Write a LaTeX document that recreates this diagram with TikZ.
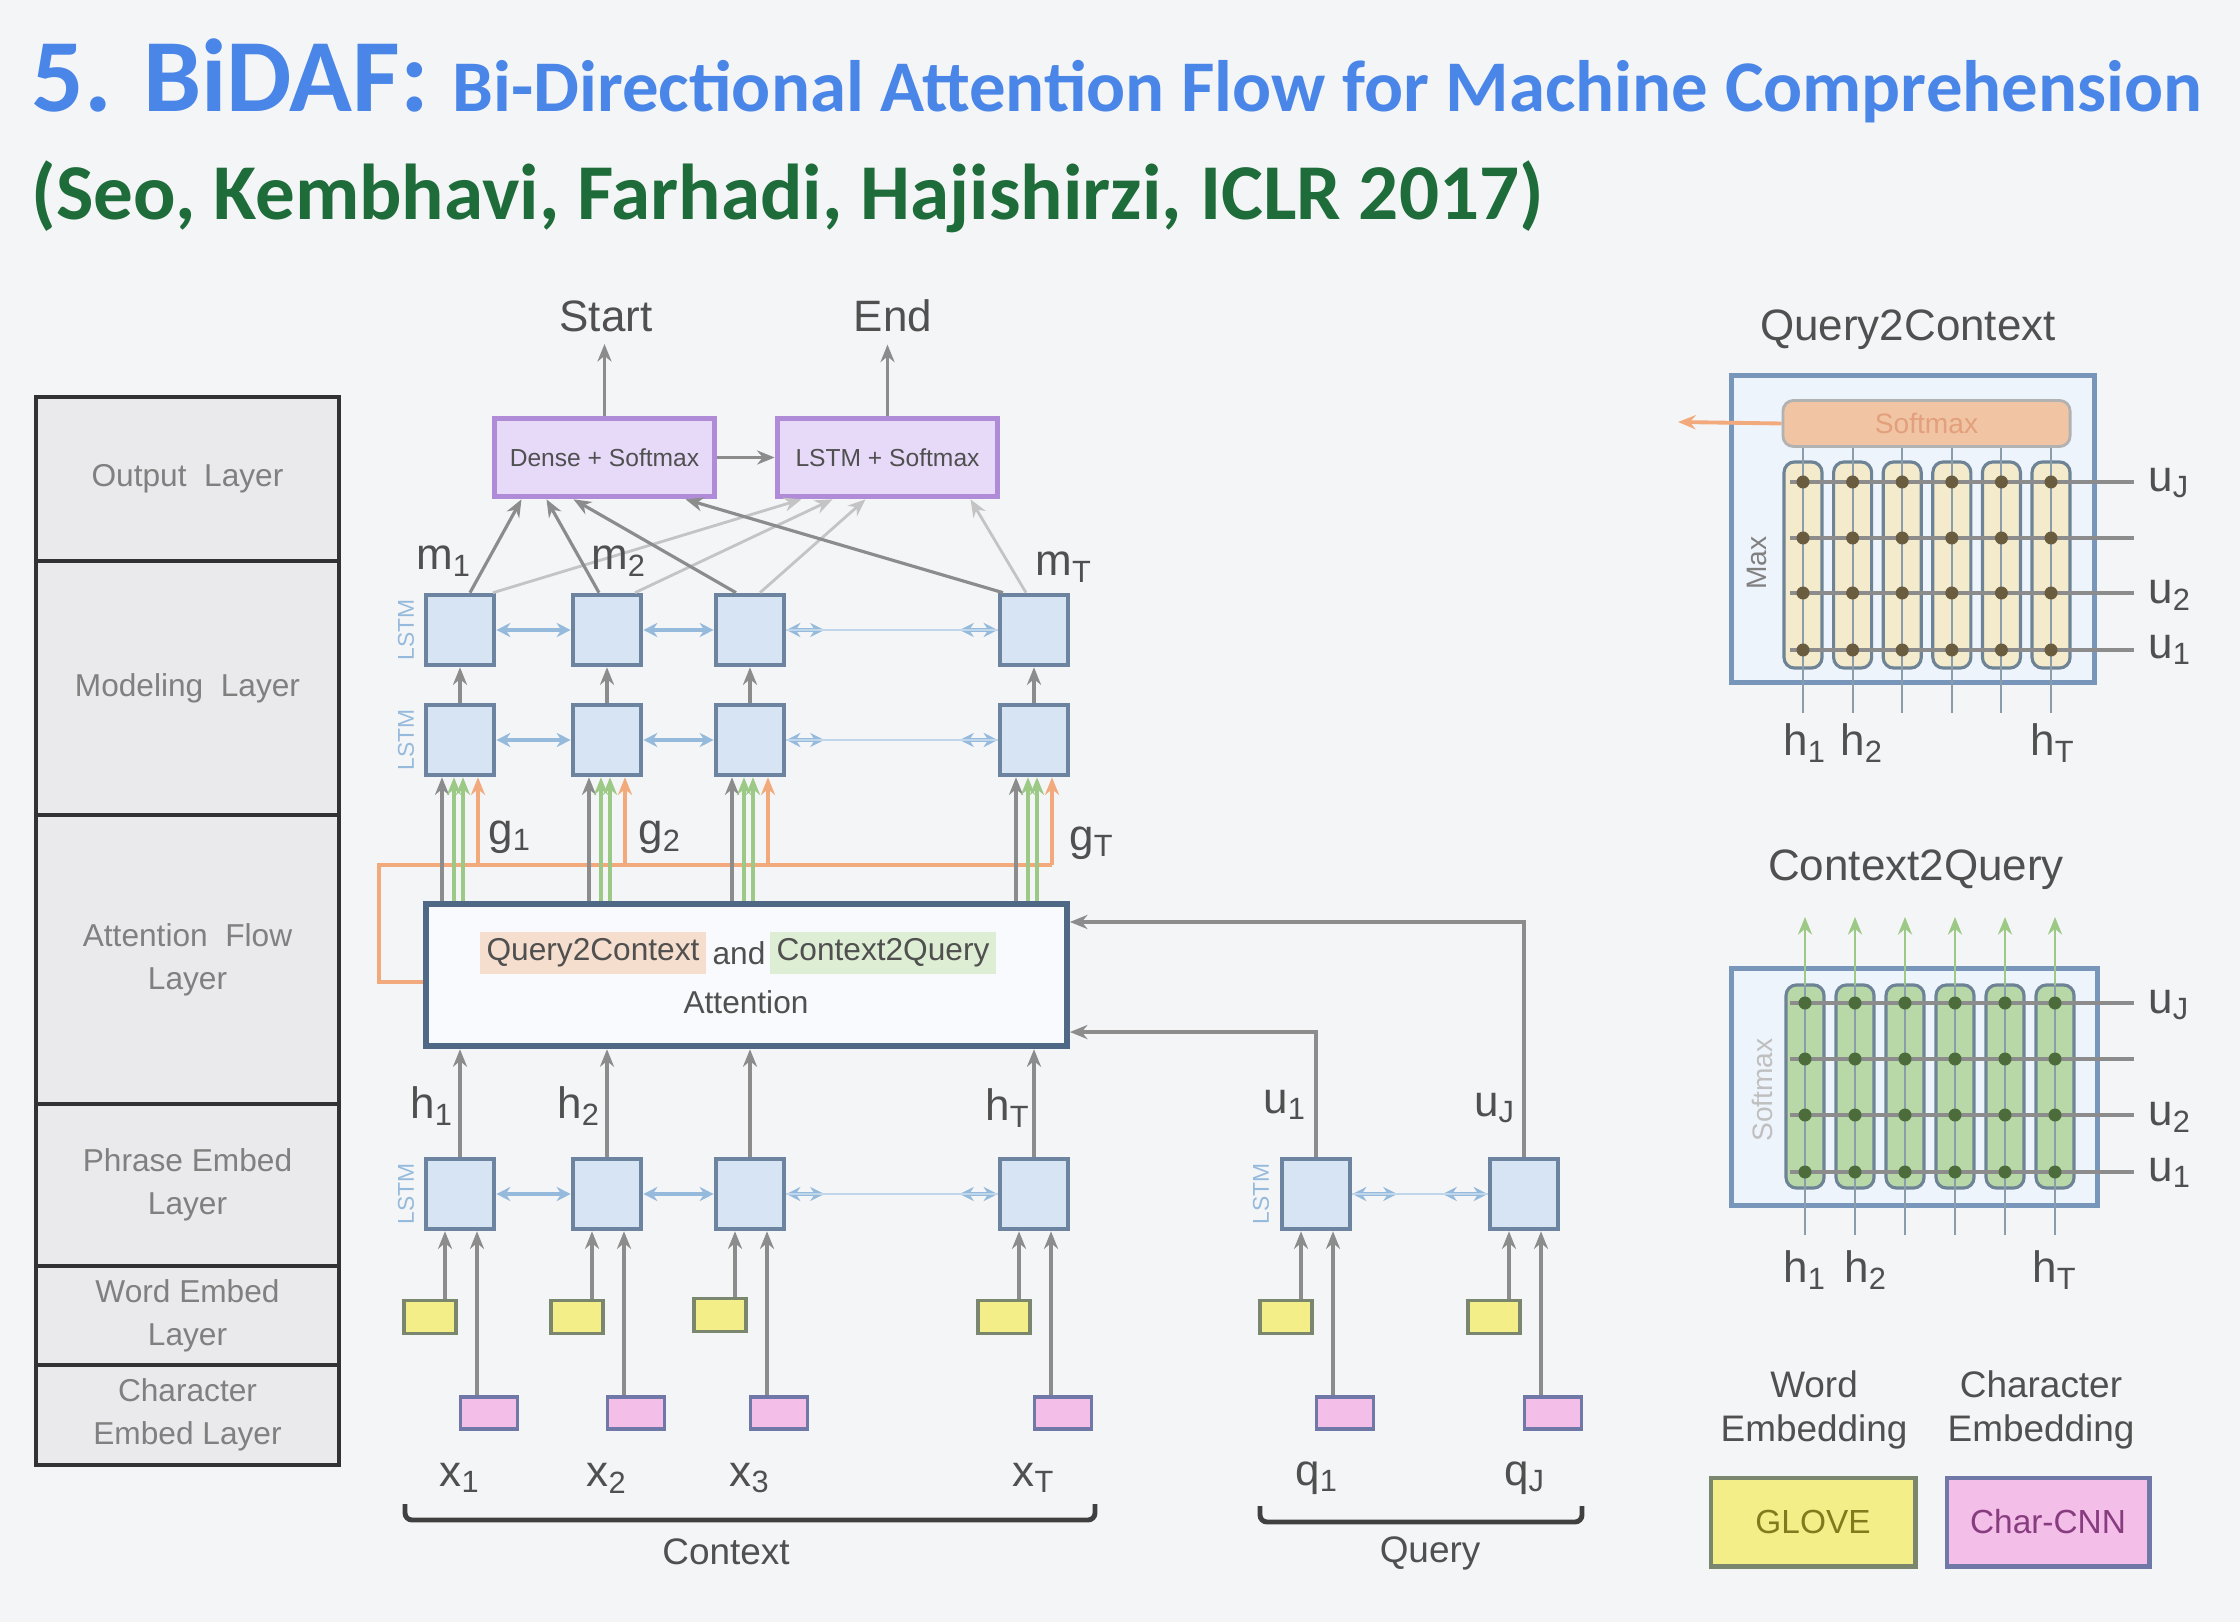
\documentclass[tikz,border=0pt]{standalone}
\usepackage{fontspec}
\setmainfont{Liberation Sans}
\newfontfamily\titlefont{Carlito}
\usepackage{tikz}
\usetikzlibrary{calc, positioning, arrows.meta}
\definecolor{slideBg}{RGB}{244,245,247}
\definecolor{titleBlue}{RGB}{74,134,232}
\definecolor{titleGreen}{RGB}{30,108,58}
\definecolor{txtGray}{RGB}{80,80,80}
\definecolor{layerFill}{RGB}{234,234,236}
\definecolor{layerEdge}{RGB}{50,50,52}
\definecolor{lstmFill}{RGB}{214,228,243}
\definecolor{lstmEdge}{RGB}{108,132,160}
\definecolor{linkBlue}{RGB}{150,186,220}
\definecolor{feedGray}{RGB}{140,140,140}
\definecolor{lightGray}{RGB}{196,196,196}
\definecolor{attEdge}{RGB}{78,104,134}
\definecolor{attFill}{RGB}{248,250,253}
\definecolor{outFill}{RGB}{230,218,248}
\definecolor{outEdge}{RGB}{176,140,216}
\definecolor{gloveFill}{RGB}{244,238,136}
\definecolor{gloveEdge}{RGB}{122,134,110}
\definecolor{gloveText}{RGB}{128,124,30}
\definecolor{charFill}{RGB}{243,190,232}
\definecolor{charEdge}{RGB}{112,120,168}
\definecolor{charText}{RGB}{136,60,128}
\definecolor{qcOrange}{RGB}{242,170,124}
\definecolor{qcFill}{RGB}{241,196,164}
\definecolor{qcText}{RGB}{226,160,124}
\definecolor{qcLight}{RGB}{245,222,205}
\definecolor{cqGreen}{RGB}{156,202,134}
\definecolor{cqLight}{RGB}{222,238,212}
\definecolor{panelFill}{RGB}{238,244,251}
\definecolor{panelEdge}{RGB}{120,150,186}
\definecolor{creamFill}{RGB}{243,235,204}
\definecolor{greenFill}{RGB}{184,216,168}
\definecolor{colEdge}{RGB}{110,132,150}
\definecolor{dotBrown}{RGB}{106,92,62}
\definecolor{dotGreen}{RGB}{76,108,60}

\begin{document}
\begin{tikzpicture}[x=0.01cm, y=-0.01cm, >={Stealth[length=5pt,width=4pt]},
  font=\fontsize{12.5}{14}\selectfont, text=txtGray,
  layer/.style={draw=layerEdge, fill=layerFill, line width=1.3pt, minimum width=3.03cm,
    align=center, text=black!50, font=\fontsize{9}{12.2}\selectfont},
  lstm/.style={draw=lstmEdge, fill=lstmFill, line width=1.3pt, minimum width=0.68cm,
    minimum height=0.70cm, inner sep=0pt},
  glove/.style={draw=gloveEdge, fill=gloveFill, line width=1.1pt, minimum width=0.52cm,
    minimum height=0.33cm, inner sep=0pt},
  charcnn/.style={draw=charEdge, fill=charFill, line width=1.1pt, minimum width=0.57cm,
    minimum height=0.32cm, inner sep=0pt},
  outbox/.style={draw=outEdge, fill=outFill, line width=1.6pt, minimum width=2.2cm,
    minimum height=0.78cm, font=\fontsize{7}{8}\selectfont},
  feed/.style={->, draw=feedGray, line width=0.9pt},
  faint/.style={->, draw=lightGray, line width=0.8pt},
  link/.style={{Stealth[length=4pt,width=4pt]}-{Stealth[length=4pt,width=4pt]},
    draw=linkBlue, line width=0.9pt},
  tag/.style={rotate=90, text=linkBlue, font=\fontsize{6.5}{7}\selectfont, inner sep=0pt},
  brace/.style={draw=black!75, line width=1.4pt, rounded corners=2pt},
  panel/.style={draw=panelEdge, fill=panelFill, line width=1.4pt},
  column/.style={draw=colEdge, rounded corners=3pt, line width=0.9pt, minimum width=0.38cm},
  small/.style={font=\fontsize{10.5}{12.5}\selectfont, align=center}]

  \fill[slideBg] (0,0) rectangle (2240,1622);
  \useasboundingbox (0,0) rectangle (2240,1622);

  % Title
  \node[anchor=base west, inner sep=0pt, text=titleBlue] (title) at (31,112)
    {\titlefont\bfseries\fontsize{29.5}{36}\selectfont 5. BiDAF:
     {\fontsize{20.7}{24}\selectfont Bi-Directional Attention Flow for Machine Comprehension}};
  \node[anchor=base west, inner sep=0pt, text=titleGreen] (cite) at (31,220)
    {\titlefont\bfseries\fontsize{22.5}{26}\selectfont (Seo, Kembhavi, Farhadi, Hajishirzi, ICLR 2017)};

  % Layer stack
  \node[layer, minimum height=1.64cm] (lyOut) at (187.5,479) {Output\ \ Layer};
  \node[layer, minimum height=2.54cm] (lyMod) at (187.5,688) {Modeling\ \ Layer};
  \node[layer, minimum height=2.89cm] (lyAtt) at (187.5,959.5) {Attention\ \ Flow\\Layer};
  \node[layer, minimum height=1.62cm] (lyPhr) at (187.5,1185) {Phrase Embed\\Layer};
  \node[layer, minimum height=0.99cm] (lyWrd) at (187.5,1315.5) {Word Embed\\Layer};
  \node[layer, minimum height=1.00cm] (lyChr) at (187.5,1415) {Character\\Embed Layer};

  % Context embeddings
  \node[lstm] (c1) at (460,1194) {};
  \node[lstm] (c2) at (607,1194) {};
  \node[lstm] (c3) at (750,1194) {};
  \node[lstm] (c4) at (1034,1194) {};
  \node[glove] (wx1) at (430,1317) {};
  \node[glove] (wx2) at (577,1317) {};
  \node[glove] (wx3) at (720,1315) {};
  \node[glove] (wx4) at (1004,1317) {};
  \node[charcnn] (cx1) at (489,1413) {};
  \node[charcnn] (cx2) at (636,1413) {};
  \node[charcnn] (cx3) at (779,1413) {};
  \node[charcnn] (cx4) at (1063,1413) {};
  \node (x1) at (460,1478) {x\textsubscript{1}};
  \node (x2) at (607,1478) {x\textsubscript{2}};
  \node (x3) at (750,1478) {x\textsubscript{3}};
  \node (xT) at (1034,1478) {x\textsubscript{T}};
  \node[tag] (tagC) at (406,1194) {LSTM};

  % Query embeddings
  \node[lstm] (u1) at (1316,1194) {};
  \node[lstm] (u2) at (1524,1194) {};
  \node[glove] (wq1) at (1286,1317) {};
  \node[glove] (wq2) at (1494,1317) {};
  \node[charcnn] (cq1) at (1345,1413) {};
  \node[charcnn] (cq2) at (1553,1413) {};
  \node (q1) at (1317,1478) {q\textsubscript{1}};
  \node (qJ) at (1525,1478) {q\textsubscript{J}};
  \node[tag] (tagQ) at (1261,1194) {LSTM};

  \foreach \n in {1,...,4} {
    \draw[feed] ($(wx\n.north)+(15,0)$) -- ($(c\n.south)+(-15,0)$);
    \draw[feed] ($(cx\n.north)+(-12,0)$) -- ($(c\n.south)+(17,0)$);
  }
  \foreach \n in {1,2} {
    \draw[feed] ($(wq\n.north)+(15,0)$) -- ($(u\n.south)+(-15,0)$);
    \draw[feed] ($(cq\n.north)+(-12,0)$) -- ($(u\n.south)+(17,0)$);
  }

  % Braces
  \draw[brace] (405,1504) -- (405,1520) -- (1095,1520) -- (1095,1504);
  \node[small] (ctxLbl) at (726,1552) {Context};
  \draw[brace] (1260,1506) -- (1260,1522) -- (1582,1522) -- (1582,1506);
  \node[small] (qryLbl) at (1430,1553) {Query};

  % Attention flow
  \node[draw=attEdge, fill=attFill, line width=1.8pt, minimum width=6.4cm,
        minimum height=1.42cm] (att) at (746.5,975) {};
  \node[fill=qcLight, inner sep=2pt, font=\fontsize{9}{10}\selectfont] (attQC) at (593,953) {Query2Context};
  \node[font=\fontsize{9}{10}\selectfont] (attAnd) at (739,953) {and};
  \node[fill=cqLight, inner sep=2pt, font=\fontsize{9}{10}\selectfont] (attCQ) at (883,953) {Context2Query};
  \node[font=\fontsize{9}{10}\selectfont] (attLbl) at (746,1002) {Attention};

  \foreach \n in {1,...,4}
    \draw[feed] (c\n.north) -- (c\n.north |- att.south);
  \node (h1) at (432,1106) {h\textsubscript{1}};
  \node (h2) at (579,1106) {h\textsubscript{2}};
  \node (hT) at (1008,1108) {h\textsubscript{T}};
  \node (uq1) at (1285,1105) {u\textsubscript{1}};
  \node (uqJ) at (1495,1108) {u\textsubscript{J}};
  \draw[feed] (u1.north) |- ([yshift=-0.57cm]att.east);
  \draw[feed] (u2.north) |- ([yshift=0.53cm]att.east);

  % Modeling layer
  \node[lstm] (g1) at (460,740) {};
  \node[lstm] (g2) at (607,740) {};
  \node[lstm] (g3) at (750,740) {};
  \node[lstm] (g4) at (1034,740) {};
  \node[lstm] (m1) at (460,630) {};
  \node[lstm] (m2) at (607,630) {};
  \node[lstm] (m3) at (750,630) {};
  \node[lstm] (m4) at (1034,630) {};
  \node[tag] (tagG) at (406,740) {LSTM};
  \node[tag] (tagM) at (406,630) {LSTM};

  \coordinate (qcBus) at (379,865);
  \draw[qcOrange, line width=1.1pt] ([yshift=-0.07cm]att.west) -| (qcBus)
    -- ($(qcBus -| g4.south)+(18,0)$);
  \foreach \n in {1,...,4} {
    \draw[feed] ($(g\n.south |- att.north)+(-18,0)$) -- ($(g\n.south)+(-18,0)$);
    \draw[feed, cqGreen] ($(g\n.south |- att.north)+(-6,0)$) -- ($(g\n.south)+(-6,0)$);
    \draw[feed, cqGreen] ($(g\n.south |- att.north)+(3,0)$) -- ($(g\n.south)+(3,0)$);
    \draw[feed, qcOrange] ($(g\n.south |- qcBus)+(18,0)$) -- ($(g\n.south)+(18,0)$);
    \draw[feed] (g\n.north) -- (m\n.south);
  }
  \node (gl1) at (510,837) {g\textsubscript{1}};
  \node (gl2) at (660,837) {g\textsubscript{2}};
  \node (glT) at (1092,843) {g\textsubscript{T}};

  % Bidirectional links
  \foreach \r in {c,g,m} {
    \draw[link] (\r1) -- (\r2);
    \draw[link] (\r2) -- (\r3);
    \draw[link] (\r3.east) -- ++(38,0);
    \draw[link] (\r4.west) -- ++(-38,0);
    \draw[linkBlue!60, line width=0.6pt] (\r3.east) -- (\r4.west);
  }
  \draw[link] (u1.east) -- ++(45,0);
  \draw[link] (u2.west) -- ++(-45,0);
  \draw[linkBlue!60, line width=0.6pt] (u1.east) -- (u2.west);

  % Output layer
  \node[outbox] (dense) at (604.5,457.5) {Dense + Softmax};
  \node[outbox] (ptr) at (887.5,457.5) {LSTM + Softmax};
  \draw[feed] (dense) -- (ptr);
  \node (start) at (606,316) {Start};
  \node (end) at (893,316) {End};
  \draw[feed] (dense.north) -- (dense.north |- start.south);
  \draw[feed] (ptr.north) -- (ptr.north |- end.south);

  \draw[faint] ($(m1.north)+(33,0)$) -- ($(ptr.south)+(-86,0)$);
  \draw[faint] ($(m2.north)+(28,0)$) -- ($(ptr.south)+(-55,0)$);
  \draw[faint] ($(m3.north)+(10,0)$) -- ($(ptr.south)+(-22,0)$);
  \draw[faint] ($(m4.north)+(-8,0)$) -- ($(ptr.south)+(83,0)$);
  \draw[feed] ($(m1.north)+(10,0)$) -- ($(dense.south)+(-83,0)$);
  \draw[feed] ($(m2.north)+(-8,0)$) -- ($(dense.south)+(-58,0)$);
  \draw[feed] ($(m3.north)+(-14,0)$) -- ($(dense.south)+(-31,0)$);
  \draw[feed] ($(m4.north)+(-31,0)$) -- ($(dense.south)+(81,0)$);
  \node (ml1) at (444,561) {m\textsubscript{1}};
  \node (ml2) at (619,561) {m\textsubscript{2}};
  \node (mlT) at (1064,567) {m\textsubscript{T}};

  % Query2Context panel
  \node (qcTitle) at (1908,330) {Query2Context};
  \node[panel, minimum width=3.62cm, minimum height=3.06cm] (qcBox) at (1913,529) {};
  \foreach \i in {0,...,5} {
    \pgfmathsetmacro\cx{1803+49.6*\i}
    \node[column, fill=creamFill, minimum height=2.06cm] (qcCol\i) at (\cx,565) {};
    \draw[colEdge!80, line width=0.6pt] (\cx,447) -- (\cx,713);
  }
  \foreach \y in {482,538,593,650} {
    \draw[feedGray, line width=0.9pt] (1790,\y) -- (2134,\y);
    \foreach \i in {0,...,5}
      \fill[dotBrown] ({1803+49.6*\i},\y) circle (0.065cm);
  }
  \node[draw=gray!60, fill=qcFill, rounded corners=3pt, line width=0.8pt, minimum width=2.87cm,
        minimum height=0.46cm, text=qcText, font=\fontsize{8}{9}\selectfont] (qcSoft)
        at (1926.5,423.5) {Softmax};
  \coordinate (qcOut) at (1678,422);
  \draw[->, qcOrange, line width=1.1pt] (qcSoft.west) -- (qcOut);
  \node[rotate=90, text=gray, font=\fontsize{8}{9}\selectfont] (qcMax) at (1757,563) {Max};
  \node[anchor=west] (qcUJ) at (2136,483) {u\textsubscript{J}};
  \node[anchor=west] (qcU2) at (2136,595) {u\textsubscript{2}};
  \node[anchor=west] (qcU1) at (2136,650) {u\textsubscript{1}};
  \node (qcH1) at (1805,743) {h\textsubscript{1}};
  \node (qcH2) at (1862,743) {h\textsubscript{2}};
  \node (qcHT) at (2053,743) {h\textsubscript{T}};

  % Context2Query panel
  \node (cqTitle) at (1916,870) {Context2Query};
  \node[panel, minimum width=3.65cm, minimum height=2.36cm] (cqBox) at (1914.5,1087) {};
  \foreach \i in {0,...,5} {
    \pgfmathsetmacro\cx{1805+50*\i}
    \node[column, fill=greenFill, minimum height=2.03cm] (cqCol\i) at (\cx,1086.5) {};
    \draw[colEdge!80, line width=0.6pt] (\cx,1235) -- (\cx,985);
    \draw[->, cqGreen, line width=0.8pt] (\cx,985) -- (\cx,917);
  }
  \foreach \y in {1003,1059,1115,1172} {
    \draw[feedGray, line width=0.9pt] (1790,\y) -- (2134,\y);
    \foreach \i in {0,...,5}
      \fill[dotGreen] ({1805+50*\i},\y) circle (0.065cm);
  }
  \node[rotate=90, text=black!25, font=\fontsize{8}{9}\selectfont] (cqSoft) at (1762,1090) {Softmax};
  \node[anchor=west] (cqUJ) at (2136,1005) {u\textsubscript{J}};
  \node[anchor=west] (cqU2) at (2136,1117) {u\textsubscript{2}};
  \node[anchor=west] (cqU1) at (2136,1173) {u\textsubscript{1}};
  \node (cqH1) at (1805,1270) {h\textsubscript{1}};
  \node (cqH2) at (1866,1270) {h\textsubscript{2}};
  \node (cqHT) at (2055,1270) {h\textsubscript{T}};

  % Legend
  \node[small] (lgWord) at (1814,1410) {Word\\Embedding};
  \node[small] (lgChar) at (2041,1410) {Character\\Embedding};
  \node[draw=gloveEdge, fill=gloveFill, line width=1.4pt, minimum width=2.04cm,
        minimum height=0.88cm, text=gloveText, font=\fontsize{9.5}{11}\selectfont] (lgGlove)
        at (1813,1522) {GLOVE};
  \node[draw=charEdge, fill=charFill, line width=1.4pt, minimum width=2.02cm,
        minimum height=0.88cm, text=charText, font=\fontsize{9.5}{11}\selectfont] (lgCnn)
        at (2048,1522) {Char-CNN};
\end{tikzpicture}
\end{document}
